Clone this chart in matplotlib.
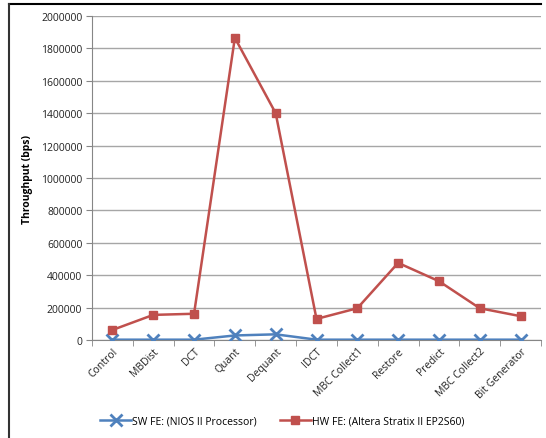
import matplotlib
matplotlib.use("Agg")
import matplotlib.pyplot as plt
from matplotlib.lines import Line2D

categories = ["Control", "MBDist", "DCT", "Quant", "Dequant", "IDCT",
              "MBC Collect1", "Restore", "Predict", "MBC Collect2", "Bit Generator"]
sw_fe = [2000, 2000, 2000, 28000, 35000, 2000, 2000, 2000, 2000, 2000, 2000]
hw_fe = [62000, 155000, 162000, 1865000, 1400000, 130000,
         196000, 476000, 363000, 196000, 147000]
y_ticks = [0, 200000, 400000, 600000, 800000, 1000000, 1200000,
           1400000, 1600000, 1800000, 2000000]

plt.rcParams["font.family"] = ["Open Sans", "DejaVu Sans"]

W, H = 546, 439
fig = plt.figure(figsize=(W / 100, H / 100), dpi=100)
ax = fig.add_axes([92 / W, 1 - 341 / H, (541 - 92) / W, (341 - 17) / H])

blue = "#4F81BD"
red = "#C0504D"
x = range(len(categories))
ax.plot(x, sw_fe, color=blue, lw=1.8, marker="x", ms=9, mew=2,
        label="SW FE: (NIOS II Processor)", zorder=3)
ax.plot(x, hw_fe, color=red, lw=1.8, marker="s", ms=6,
        label="HW FE: (Altera Stratix II EP2S60)", zorder=3)

ax.set_xlim(-0.5, len(categories) - 0.5)
ax.set_ylim(0, 2000000)
ax.set_yticks(y_ticks)
ax.set_yticklabels([str(v) for v in y_ticks], fontsize=7.5, color="#222222")
ax.yaxis.grid(True, color="#A6A6A6", lw=1)
ax.set_axisbelow(True)

ax.set_xticks(list(x))
ax.set_xticklabels(categories, rotation=45, ha="right", rotation_mode="anchor",
                   fontsize=7.5, color="#222222")
ax.tick_params(axis="x", length=0, pad=4)
ax.set_xticks([i + 0.5 for i in range(-1, len(categories))], minor=True)
ax.tick_params(axis="x", which="minor", length=4, color="#868686")
ax.tick_params(axis="y", length=4, color="#868686", pad=3)

for s in ["top", "right"]:
    ax.spines[s].set_visible(False)
for s in ["left", "bottom"]:
    ax.spines[s].set_color("#868686")

ax.set_ylabel("Throughput (bps)", fontsize=7.5, fontweight="bold", labelpad=6)

fig.legend(loc="center", bbox_to_anchor=(0.517, 1 - 422 / H), ncol=2,
           frameon=False, fontsize=7.5, handlelength=3, columnspacing=2.2,
           handletextpad=0.1)

# chart frame edges
fig.add_artist(Line2D([9 / W, 541 / W], [1 - 5 / H, 1 - 5 / H],
                      color="black", lw=1.5, transform=fig.transFigure))
fig.add_artist(Line2D([9 / W, 9 / W], [1 - 5 / H, 0],
                      color="#333333", lw=1.5, transform=fig.transFigure))

fig.savefig("out.png", dpi=100)
